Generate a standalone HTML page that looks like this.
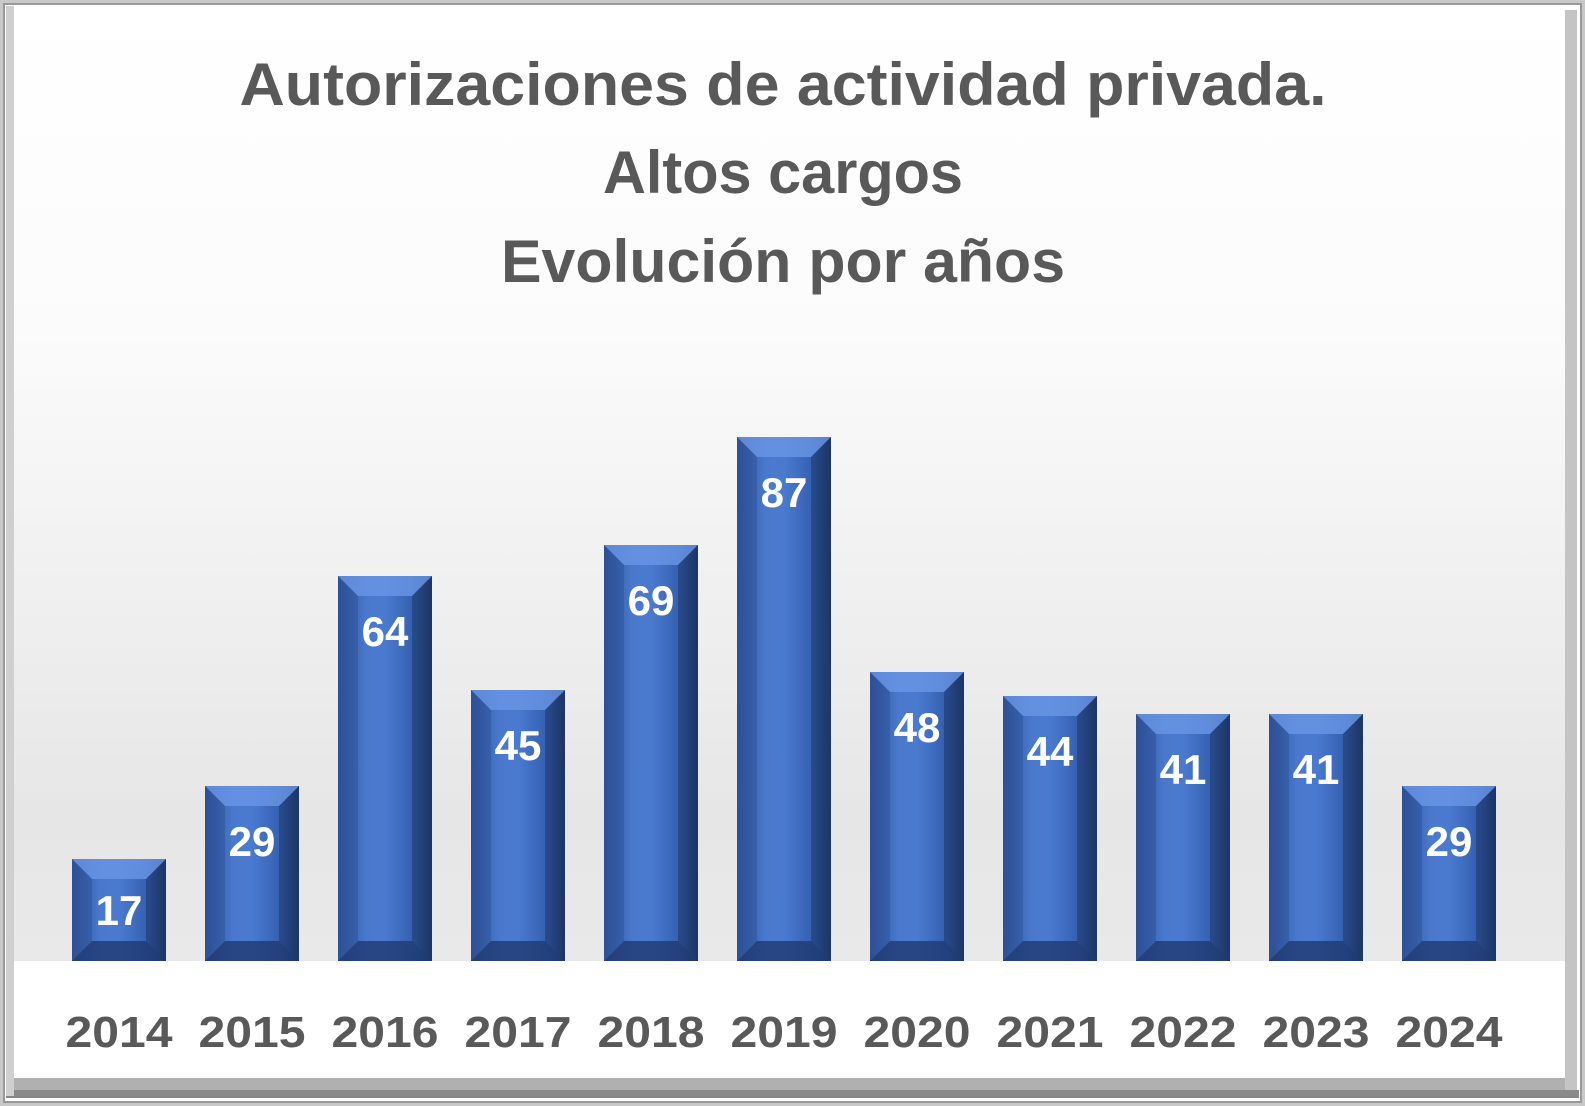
<!DOCTYPE html>
<html><head><meta charset="utf-8"><style>
html,body{margin:0;padding:0;background:#fff}
svg{display:block}
text{font-family:"Liberation Sans",sans-serif;font-weight:bold}
</style></head><body>
<svg width="1585" height="1106" viewBox="0 0 1585 1106" xmlns="http://www.w3.org/2000/svg">
<defs>
<linearGradient id="bg" x1="0" y1="0" x2="0" y2="1">
<stop offset="0" stop-color="#ffffff"/>
<stop offset="0.3" stop-color="#fbfbfb"/>
<stop offset="0.75" stop-color="#e6e6e6"/>
<stop offset="1" stop-color="#ececec"/>
</linearGradient>
<linearGradient id="bar" x1="0" y1="0" x2="1" y2="0">
<stop offset="0" stop-color="#2f549a"/>
<stop offset="0.3" stop-color="#4a78cc"/>
<stop offset="0.5" stop-color="#4a7ad0"/>
<stop offset="0.8" stop-color="#3560b0"/>
<stop offset="1" stop-color="#1e3766"/>
</linearGradient>
</defs>
<rect x="0" y="0" width="1585" height="1106" fill="#c8c8c8"/>
<rect x="4" y="4" width="1577" height="1098" fill="#fff" stroke="#999" stroke-width="2"/>
<rect x="10" y="10" width="1565" height="1075" fill="url(#bg)"/>
<rect x="10" y="961" width="1565" height="124" fill="#fff"/>
<rect x="10" y="1078" width="1565" height="14" fill="#b0b0b0"/>
<rect x="6" y="1090" width="1573" height="8" fill="#8a8a8a"/>
<rect x="1565" y="10" width="12" height="1080" fill="#c4c4c4"/>
<rect x="6" y="6" width="8" height="1090" fill="#cfcfcf"/>
<g fill="#595959" text-anchor="middle" font-size="60">
<text x="783" y="105" textLength="1087" lengthAdjust="spacingAndGlyphs">Autorizaciones de actividad privada.</text>
<text x="783" y="193" textLength="360" lengthAdjust="spacingAndGlyphs">Altos cargos</text>
<text x="783" y="282" textLength="564" lengthAdjust="spacingAndGlyphs">Evolución por años</text>
</g>

<g transform="translate(72,0)"><rect y="859" width="94" height="102" fill="url(#bar)"/><polygon points="0,859 94,859 74,879 20,879" fill="#6a96e6" opacity="0.8"/><polygon points="0,961 94,961 74,941 20,941" fill="#1f3a70" opacity="0.8"/><polygon points="94,859 94,961 74,941 74,879" fill="#1c3364" opacity="0.5"/><polygon points="0,859 0,961 20,941 20,879" fill="#2a4c8e" opacity="0.4"/><text x="47" y="925" text-anchor="middle" font-size="42" fill="#fff">17</text><text x="47" y="1047" text-anchor="middle" font-size="44" fill="#595959" textLength="107" lengthAdjust="spacingAndGlyphs">2014</text></g>
<g transform="translate(205,0)"><rect y="786" width="94" height="175" fill="url(#bar)"/><polygon points="0,786 94,786 74,806 20,806" fill="#6a96e6" opacity="0.8"/><polygon points="0,961 94,961 74,941 20,941" fill="#1f3a70" opacity="0.8"/><polygon points="94,786 94,961 74,941 74,806" fill="#1c3364" opacity="0.5"/><polygon points="0,786 0,961 20,941 20,806" fill="#2a4c8e" opacity="0.4"/><text x="47" y="856" text-anchor="middle" font-size="42" fill="#fff">29</text><text x="47" y="1047" text-anchor="middle" font-size="44" fill="#595959" textLength="107" lengthAdjust="spacingAndGlyphs">2015</text></g>
<g transform="translate(338,0)"><rect y="576" width="94" height="385" fill="url(#bar)"/><polygon points="0,576 94,576 74,596 20,596" fill="#6a96e6" opacity="0.8"/><polygon points="0,961 94,961 74,941 20,941" fill="#1f3a70" opacity="0.8"/><polygon points="94,576 94,961 74,941 74,596" fill="#1c3364" opacity="0.5"/><polygon points="0,576 0,961 20,941 20,596" fill="#2a4c8e" opacity="0.4"/><text x="47" y="646" text-anchor="middle" font-size="42" fill="#fff">64</text><text x="47" y="1047" text-anchor="middle" font-size="44" fill="#595959" textLength="107" lengthAdjust="spacingAndGlyphs">2016</text></g>
<g transform="translate(471,0)"><rect y="690" width="94" height="271" fill="url(#bar)"/><polygon points="0,690 94,690 74,710 20,710" fill="#6a96e6" opacity="0.8"/><polygon points="0,961 94,961 74,941 20,941" fill="#1f3a70" opacity="0.8"/><polygon points="94,690 94,961 74,941 74,710" fill="#1c3364" opacity="0.5"/><polygon points="0,690 0,961 20,941 20,710" fill="#2a4c8e" opacity="0.4"/><text x="47" y="760" text-anchor="middle" font-size="42" fill="#fff">45</text><text x="47" y="1047" text-anchor="middle" font-size="44" fill="#595959" textLength="107" lengthAdjust="spacingAndGlyphs">2017</text></g>
<g transform="translate(604,0)"><rect y="545" width="94" height="416" fill="url(#bar)"/><polygon points="0,545 94,545 74,565 20,565" fill="#6a96e6" opacity="0.8"/><polygon points="0,961 94,961 74,941 20,941" fill="#1f3a70" opacity="0.8"/><polygon points="94,545 94,961 74,941 74,565" fill="#1c3364" opacity="0.5"/><polygon points="0,545 0,961 20,941 20,565" fill="#2a4c8e" opacity="0.4"/><text x="47" y="615" text-anchor="middle" font-size="42" fill="#fff">69</text><text x="47" y="1047" text-anchor="middle" font-size="44" fill="#595959" textLength="107" lengthAdjust="spacingAndGlyphs">2018</text></g>
<g transform="translate(737,0)"><rect y="437" width="94" height="524" fill="url(#bar)"/><polygon points="0,437 94,437 74,457 20,457" fill="#6a96e6" opacity="0.8"/><polygon points="0,961 94,961 74,941 20,941" fill="#1f3a70" opacity="0.8"/><polygon points="94,437 94,961 74,941 74,457" fill="#1c3364" opacity="0.5"/><polygon points="0,437 0,961 20,941 20,457" fill="#2a4c8e" opacity="0.4"/><text x="47" y="507" text-anchor="middle" font-size="42" fill="#fff">87</text><text x="47" y="1047" text-anchor="middle" font-size="44" fill="#595959" textLength="107" lengthAdjust="spacingAndGlyphs">2019</text></g>
<g transform="translate(870,0)"><rect y="672" width="94" height="289" fill="url(#bar)"/><polygon points="0,672 94,672 74,692 20,692" fill="#6a96e6" opacity="0.8"/><polygon points="0,961 94,961 74,941 20,941" fill="#1f3a70" opacity="0.8"/><polygon points="94,672 94,961 74,941 74,692" fill="#1c3364" opacity="0.5"/><polygon points="0,672 0,961 20,941 20,692" fill="#2a4c8e" opacity="0.4"/><text x="47" y="742" text-anchor="middle" font-size="42" fill="#fff">48</text><text x="47" y="1047" text-anchor="middle" font-size="44" fill="#595959" textLength="107" lengthAdjust="spacingAndGlyphs">2020</text></g>
<g transform="translate(1003,0)"><rect y="696" width="94" height="265" fill="url(#bar)"/><polygon points="0,696 94,696 74,716 20,716" fill="#6a96e6" opacity="0.8"/><polygon points="0,961 94,961 74,941 20,941" fill="#1f3a70" opacity="0.8"/><polygon points="94,696 94,961 74,941 74,716" fill="#1c3364" opacity="0.5"/><polygon points="0,696 0,961 20,941 20,716" fill="#2a4c8e" opacity="0.4"/><text x="47" y="766" text-anchor="middle" font-size="42" fill="#fff">44</text><text x="47" y="1047" text-anchor="middle" font-size="44" fill="#595959" textLength="107" lengthAdjust="spacingAndGlyphs">2021</text></g>
<g transform="translate(1136,0)"><rect y="714" width="94" height="247" fill="url(#bar)"/><polygon points="0,714 94,714 74,734 20,734" fill="#6a96e6" opacity="0.8"/><polygon points="0,961 94,961 74,941 20,941" fill="#1f3a70" opacity="0.8"/><polygon points="94,714 94,961 74,941 74,734" fill="#1c3364" opacity="0.5"/><polygon points="0,714 0,961 20,941 20,734" fill="#2a4c8e" opacity="0.4"/><text x="47" y="784" text-anchor="middle" font-size="42" fill="#fff">41</text><text x="47" y="1047" text-anchor="middle" font-size="44" fill="#595959" textLength="107" lengthAdjust="spacingAndGlyphs">2022</text></g>
<g transform="translate(1269,0)"><rect y="714" width="94" height="247" fill="url(#bar)"/><polygon points="0,714 94,714 74,734 20,734" fill="#6a96e6" opacity="0.8"/><polygon points="0,961 94,961 74,941 20,941" fill="#1f3a70" opacity="0.8"/><polygon points="94,714 94,961 74,941 74,734" fill="#1c3364" opacity="0.5"/><polygon points="0,714 0,961 20,941 20,734" fill="#2a4c8e" opacity="0.4"/><text x="47" y="784" text-anchor="middle" font-size="42" fill="#fff">41</text><text x="47" y="1047" text-anchor="middle" font-size="44" fill="#595959" textLength="107" lengthAdjust="spacingAndGlyphs">2023</text></g>
<g transform="translate(1402,0)"><rect y="786" width="94" height="175" fill="url(#bar)"/><polygon points="0,786 94,786 74,806 20,806" fill="#6a96e6" opacity="0.8"/><polygon points="0,961 94,961 74,941 20,941" fill="#1f3a70" opacity="0.8"/><polygon points="94,786 94,961 74,941 74,806" fill="#1c3364" opacity="0.5"/><polygon points="0,786 0,961 20,941 20,806" fill="#2a4c8e" opacity="0.4"/><text x="47" y="856" text-anchor="middle" font-size="42" fill="#fff">29</text><text x="47" y="1047" text-anchor="middle" font-size="44" fill="#595959" textLength="107" lengthAdjust="spacingAndGlyphs">2024</text></g>
</svg>
</body></html>
